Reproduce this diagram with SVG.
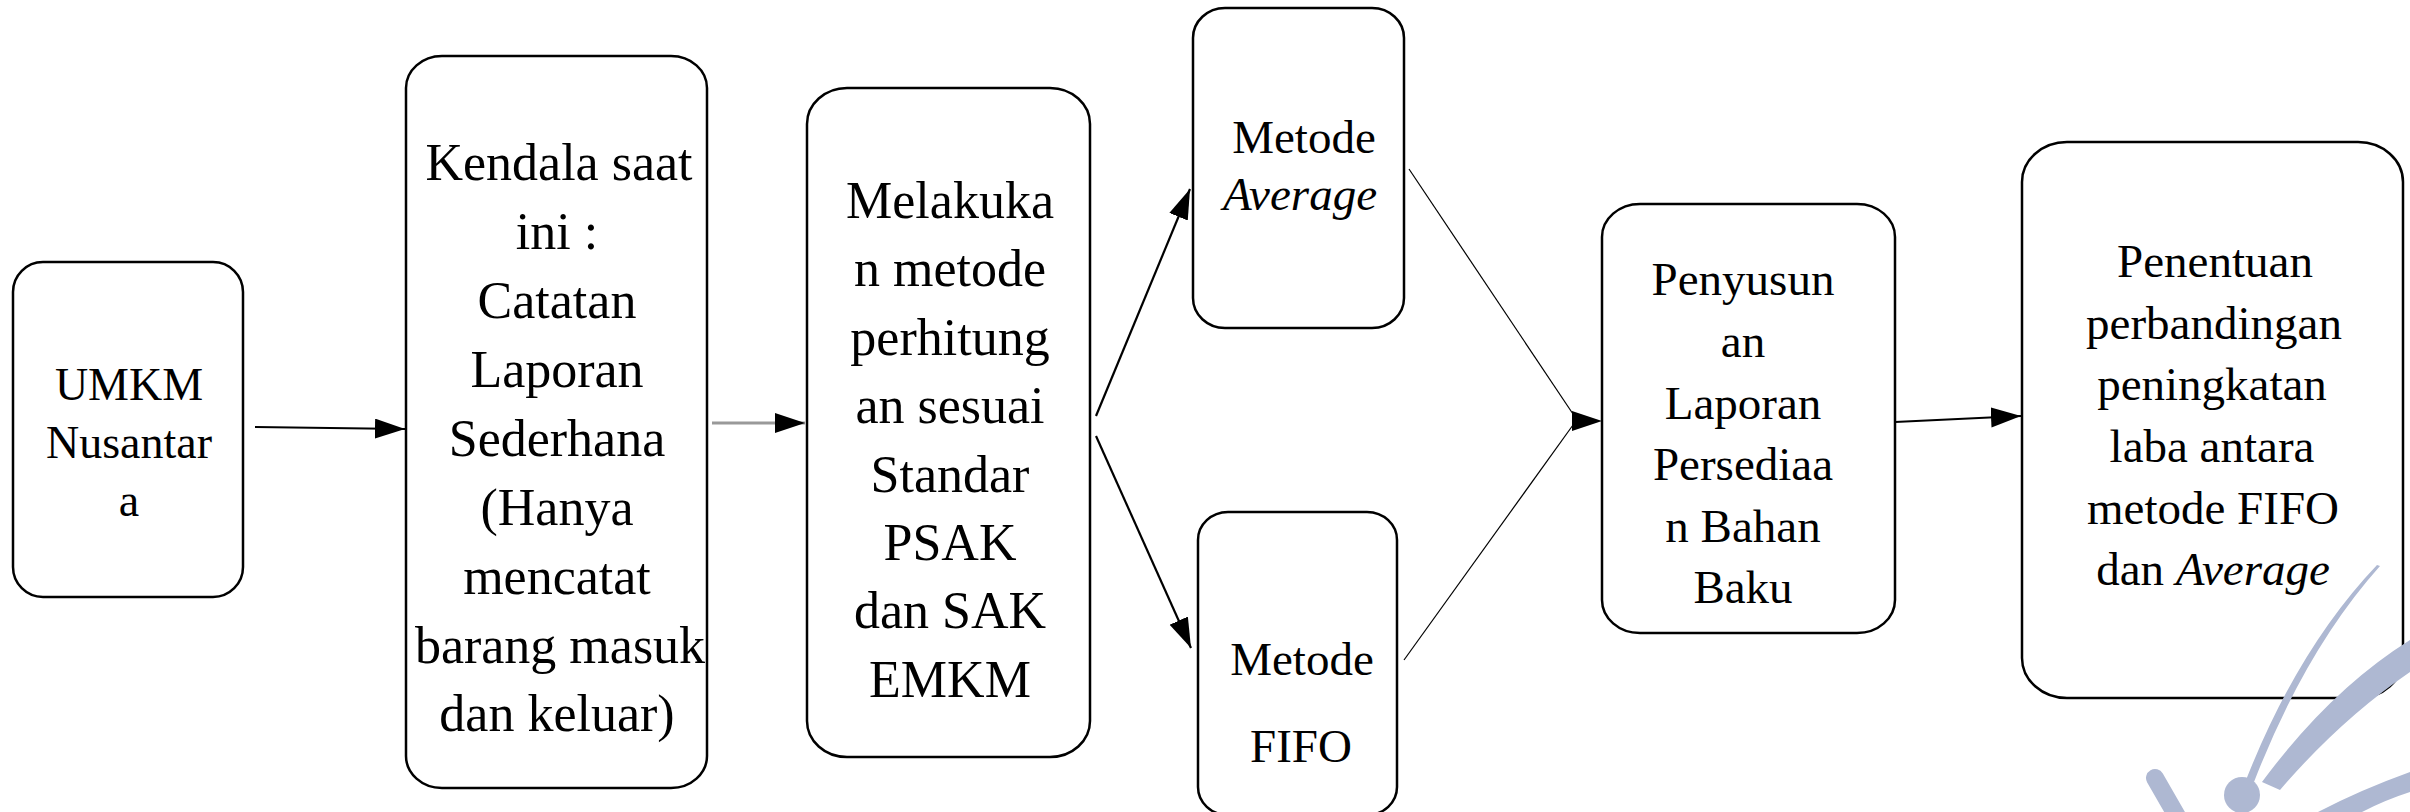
<svg xmlns="http://www.w3.org/2000/svg" width="2410" height="812" viewBox="0 0 2410 812">
<style>
.box{fill:#fff;stroke:#000;stroke-width:2.5}
text{font-family:'Liberation Serif','DejaVu Serif',serif;fill:#000;text-anchor:middle}
.big{font-size:52px}
.mid{font-size:47px}
.sm{font-size:46px}
.it{font-style:italic}
.con{stroke:#000;fill:none}
.wm{fill:#aeb8d2;stroke:none}
.wms{stroke:#aeb8d2;fill:none;stroke-linecap:round}
</style>
<defs>
<marker id="ah" markerUnits="userSpaceOnUse" markerWidth="32" markerHeight="22" refX="30" refY="10" orient="auto">
<path d="M0,0 L30,10 L0,20 z" fill="#000"/>
</marker>
</defs>
<rect width="2410" height="812" fill="#fff"/>

<g id="connectors">
<line class="con" x1="255" y1="427" x2="405" y2="429" stroke-width="2" marker-end="url(#ah)"/>
<line x1="712" y1="423" x2="805" y2="423" stroke="#999" stroke-width="3" marker-end="url(#ah)"/>
<line class="con" x1="1096" y1="416" x2="1190" y2="189" stroke-width="2.2" marker-end="url(#ah)"/>
<line class="con" x1="1096" y1="436" x2="1191" y2="648" stroke-width="2.2" marker-end="url(#ah)"/>
<line class="con" x1="1409" y1="169" x2="1573" y2="414" stroke-width="1.2"/>
<line class="con" x1="1404" y1="660" x2="1573" y2="425" stroke-width="1.2"/>
<path d="M1572,411 L1602,421 L1572,431 z" fill="#000"/>
<line class="con" x1="1895" y1="422" x2="2021" y2="416" stroke-width="2" marker-end="url(#ah)"/>
</g>

<g id="n-umkm" font-family="Liberation Serif, serif">
<rect class="box" x="13" y="262" width="230" height="335" rx="30" ry="30"/>
<text class="sm" x="129" y="400">UMKM</text>
<text class="sm" x="129" y="458">Nusantar</text>
<text class="sm" x="129" y="516">a</text>
</g>

<g id="n-kendala" font-family="Liberation Serif, serif">
<rect class="box" x="406" y="56" width="301" height="732" rx="36" ry="32"/>
<text class="big" x="559" y="180">Kendala saat</text>
<text class="big" x="557" y="249">ini :</text>
<text class="big" x="557" y="318">Catatan</text>
<text class="big" x="557" y="387">Laporan</text>
<text class="big" x="557" y="456">Sederhana</text>
<text class="big" x="557" y="525">(Hanya</text>
<text class="big" x="557" y="594">mencatat</text>
<text class="big" x="560" y="663">barang masuk</text>
<text class="big" x="557" y="731">dan keluar)</text>
</g>

<g id="n-melakukan" font-family="Liberation Serif, serif">
<rect class="box" x="807" y="88" width="283" height="669" rx="40" ry="36"/>
<text class="big" x="950" y="218">Melakuka</text>
<text class="big" x="950" y="286">n metode</text>
<text class="big" x="950" y="355">perhitung</text>
<text class="big" x="950" y="423">an sesuai</text>
<text class="big" x="950" y="492">Standar</text>
<text class="big" x="950" y="560">PSAK</text>
<text class="big" x="950" y="628">dan SAK</text>
<text class="big" x="950" y="697">EMKM</text>
</g>

<g id="n-average" font-family="Liberation Serif, serif">
<rect class="box" x="1193" y="8" width="211" height="320" rx="32" ry="30"/>
<text class="mid" x="1304" y="153">Metode</text>
<text class="mid it" x="1300" y="210">Average</text>
</g>

<g id="n-fifo" font-family="Liberation Serif, serif">
<rect class="box" x="1198" y="512" width="199" height="303" rx="30" ry="28"/>
<text class="mid" x="1302" y="675">Metode</text>
<text class="mid" x="1301" y="762">FIFO</text>
</g>

<g id="n-penyusunan" font-family="Liberation Serif, serif">
<rect class="box" x="1602" y="204" width="293" height="429" rx="38" ry="33"/>
<text class="mid" x="1743" y="295">Penyusun</text>
<text class="mid" x="1743" y="357">an</text>
<text class="mid" x="1743" y="419">Laporan</text>
<text class="mid" x="1743" y="480">Persediaa</text>
<text class="mid" x="1743" y="542">n Bahan</text>
<text class="mid" x="1743" y="603">Baku</text>
</g>

<g id="n-penentuan" font-family="Liberation Serif, serif">
<rect class="box" x="2022" y="142" width="381" height="556" rx="45" ry="40"/>
<text class="mid" x="2215" y="277">Penentuan</text>
<text class="mid" x="2214" y="339">perbandingan</text>
<text class="mid" x="2212" y="400">peningkatan</text>
<text class="mid" x="2212" y="462">laba antara</text>
<text class="mid" x="2213" y="524">metode FIFO</text>
<text class="mid" x="2213" y="585">dan <tspan class="it">Average</tspan></text>
</g>

<g id="watermark">
<path class="wm" d="M2380,566 Q2305,650 2254,782 L2246,780 Q2298,648 2377,565 z"/>
<path class="wm" d="M2410,640 Q2330,690 2262,782 L2280,790 Q2340,720 2410,672 z"/>
<circle class="wm" cx="2242" cy="795" r="18"/>
<line class="wms" x1="2155" y1="778" x2="2178" y2="818" stroke-width="18"/>
<path class="wm" d="M2410,772 Q2360,790 2318,812 L2362,812 Q2385,800 2410,792 z"/>
</g>
</svg>
